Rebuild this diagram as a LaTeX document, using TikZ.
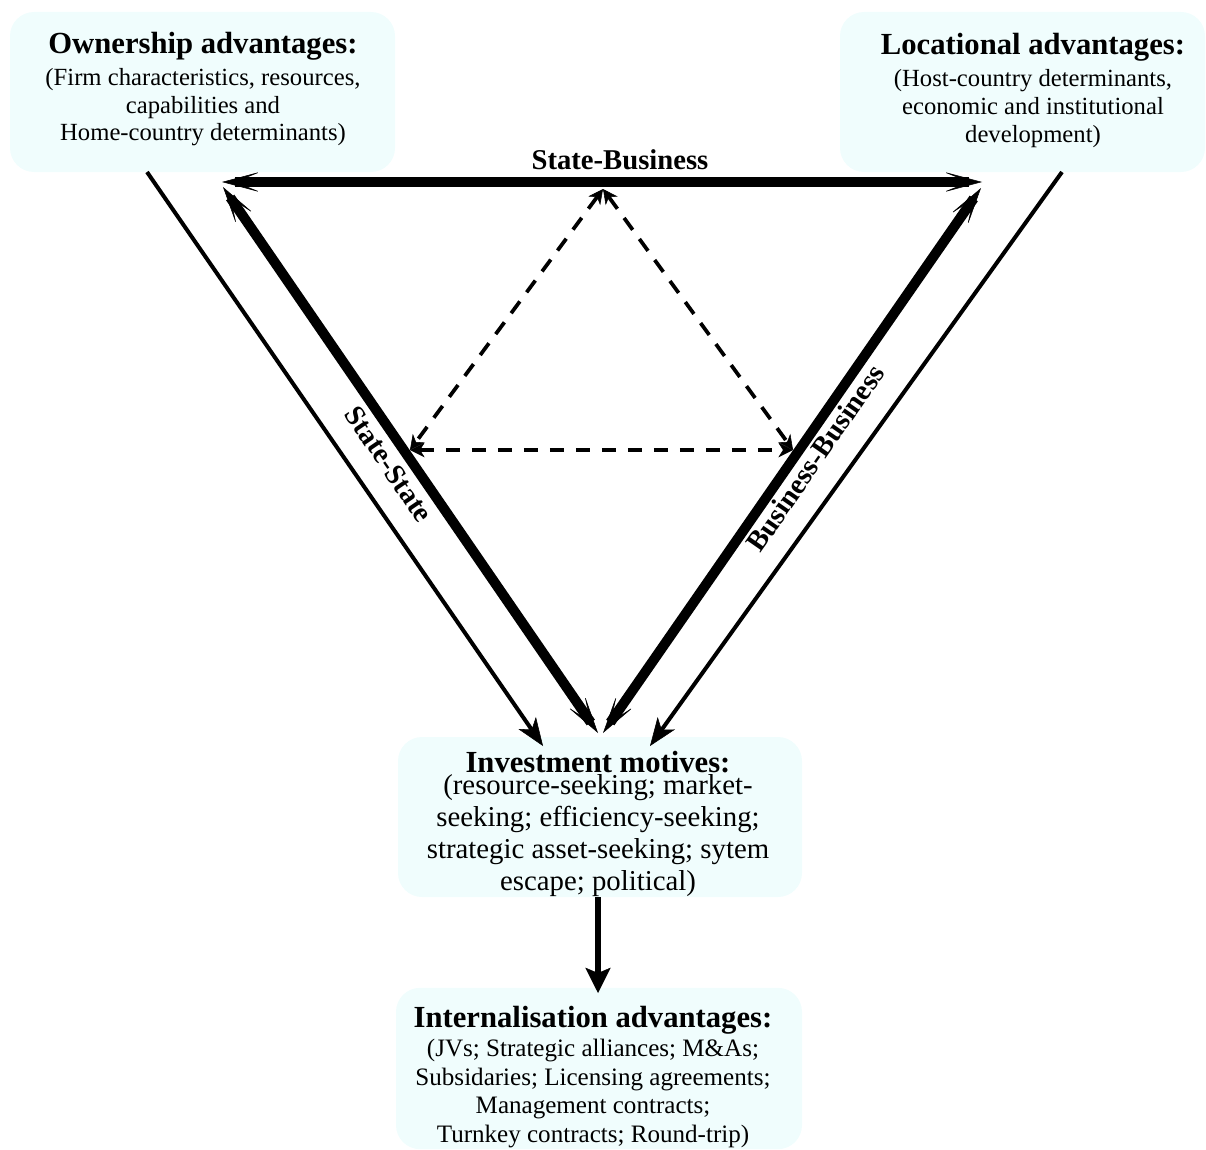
\documentclass[tikz,border=0pt]{standalone}
\usepackage{fontspec}
\setmainfont{Liberation Serif}
\usetikzlibrary{arrows.meta}
\definecolor{boxfill}{RGB}{240,253,253}
\newcommand{\ttlfont}{\fontsize{23}{26}\selectfont\bfseries}
\begin{document}
\begin{tikzpicture}[x=0.75pt,y=-0.75pt,
  box/.style={fill=boxfill, draw=none, rounded corners=18pt, inner sep=0pt},
  txt/.style={align=center, inner sep=0pt, anchor=north},
  bigtip/.tip={Stealth[length=30pt,width=16pt,inset=20pt,line width=0.4pt]},
  thintip/.tip={Stealth[length=21pt,width=16pt,inset=6pt,line width=0.4pt]},
  dashtip/.tip={Stealth[length=11pt,width=11pt,inset=3.5pt,line width=0.4pt]},
  thickarrow/.style={line width=7.5pt, bigtip-bigtip},
  thinarrow/.style={line width=3pt, -thintip},
  dasharrow/.style={line width=2.8pt, dash pattern=on 11pt off 8.5pt, dashtip-dashtip},
  downarrow/.style={line width=4.5pt, -{Stealth[length=19pt,width=19pt,inset=4pt,line width=0.4pt]}},
  lbl/.style={font=\fontsize{21.5}{24}\selectfont\bfseries, inner sep=0pt}
]
\useasboundingbox (0,0) rectangle (1206,1149);

% boxes
\node[box, minimum width=288.75pt, minimum height=120pt] (own) at (202.5,92) {};
\node[box, minimum width=273.75pt, minimum height=120pt] (loc) at (1022.5,92) {};
\node[box, minimum width=303pt, minimum height=120pt] (inv) at (600,817) {};
\node[box, minimum width=304.5pt, minimum height=121pt] (int) at (599,1068.5) {};

% texts
\node[txt, font=\fontsize{18.5}{20.6}\selectfont] (ownT) at (203,32)
  {{\ttlfont Ownership advantages:}\\[3.4pt]
   (Firm characteristics, resources,\\ capabilities and\\ Home-country determinants)};
\node[txt, font=\fontsize{18.5}{21}\selectfont] (locT) at (1033,33)
  {{\ttlfont Locational advantages:}\\[3pt]
   (Host-country determinants,\\ economic and institutional\\ development)};
\node[txt, font=\fontsize{21.6}{24}\selectfont] (invT) at (598,751)
  {{\ttlfont Investment motives:}\\[-7.5pt]
   (resource-seeking; market-\\ seeking; efficiency-seeking;\\ strategic asset-seeking; sytem\\ escape; political)};
\node[txt, font=\fontsize{18.8}{21.6}\selectfont] (intT) at (593,1006)
  {{\ttlfont Internalisation advantages:}\\[0pt]
   (JVs; Strategic alliances; M\&As;\\ Subsidaries; Licensing agreements;\\ Management contracts;\\ Turnkey contracts; Round-trip)};

% coordinates
\coordinate (sbL) at (222,182);
\coordinate (sbR) at (982,182);
\coordinate (ssT) at (223,187);
\coordinate (ssB) at (598,733);
\coordinate (bbT) at (981,188);
\coordinate (bbB) at (603,733);
\coordinate (oStart) at (147,172);
\coordinate (oEnd) at (543,746);
\coordinate (lStart) at (1062,172);
\coordinate (lEnd) at (650,746);
\coordinate (apex) at (603,189);
\coordinate (dL) at (410,450);
\coordinate (dR) at (793,450);
\coordinate (vS) at (598,897);
\coordinate (vE) at (598,993);

% thick arrows
\draw[thickarrow] (sbL) -- (sbR);
\draw[thickarrow] (ssT) -- (ssB);
\draw[thickarrow] (bbT) -- (bbB);

% thin arrows
\draw[thinarrow] (oStart) -- (oEnd);
\draw[thinarrow] (lStart) -- (lEnd);

% dashed triangle
\draw[dasharrow] (apex) -- (dL);
\draw[dasharrow] (apex) -- (dR);
\draw[dasharrow] (dL) -- (dR);

% down arrow
\draw[downarrow] (vS) -- (vE);

% labels
\node[lbl] (sbLbl) at (620,160) {State-Business};
\node[lbl, rotate=-55.7] (ssLbl) at (389,464) {State-State};
\node[lbl, rotate=55.2] (bbLbl) at (815,458) {Business-Business};
\end{tikzpicture}
\end{document}
